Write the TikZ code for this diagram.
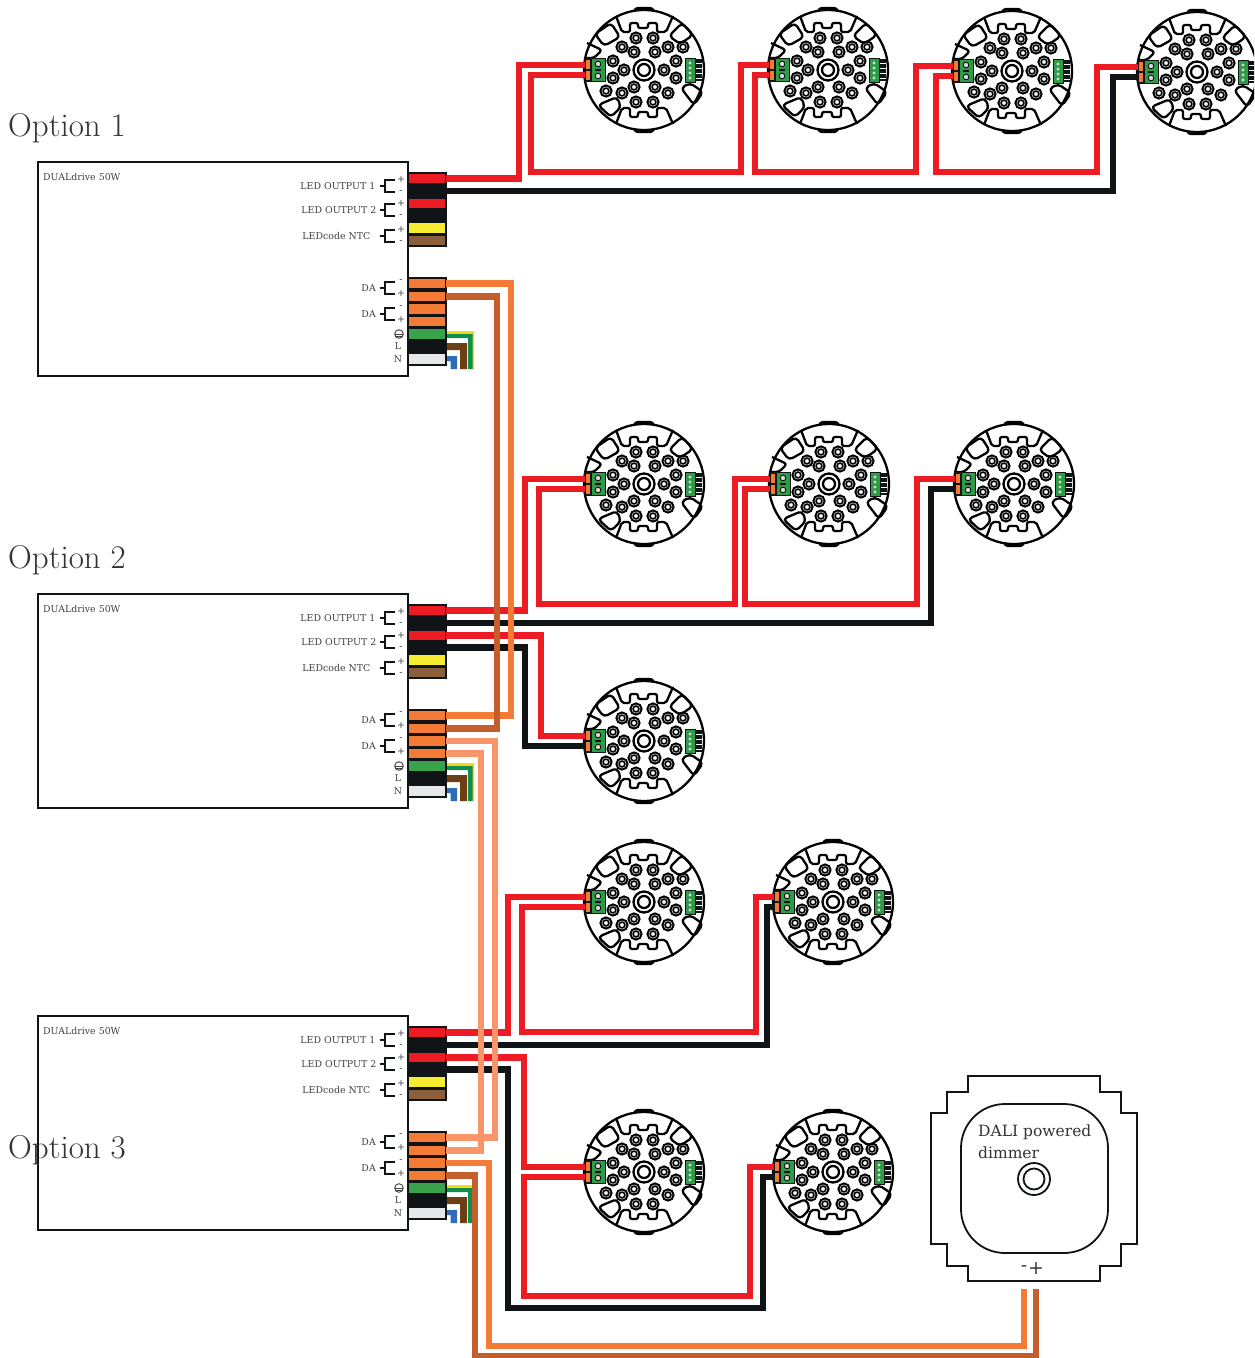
\documentclass[tikz,border=0pt]{standalone}
\usepackage{fontspec}
\setmainfont{DejaVu Serif}
\newfontfamily\optfont{Latin Modern Roman}
\definecolor{wred}{HTML}{ED1C24}
\definecolor{wblack}{HTML}{111417}
\definecolor{oa}{HTML}{F47B35}
\definecolor{ob}{HTML}{C45F2D}
\definecolor{oc}{HTML}{F9956A}
\definecolor{tyellow}{HTML}{F8EC31}
\definecolor{tbrown}{HTML}{8B5E3C}
\definecolor{tgreen}{HTML}{3AA24A}
\definecolor{twhite}{HTML}{E6E7E8}
\definecolor{pgreen}{HTML}{2E9B47}
\definecolor{myel}{HTML}{F6D80F}
\definecolor{mgreen}{HTML}{0E8F4F}
\definecolor{mbrown}{HTML}{6E3F16}
\definecolor{mblue}{HTML}{2F6DB8}
\tikzset{
  wire/.style={line width=6.5pt,line join=miter},
  redw/.style={wire,draw=wred},
  blkw/.style={wire,draw=wblack},
  orw/.style={wire,draw=oa},
  brw/.style={wire,draw=ob},
  ltw/.style={wire,draw=oc},
  term/.style={draw=wblack,line width=2pt,minimum width=38pt,minimum height=11.5pt,inner sep=0pt,outer sep=0pt,anchor=north west},
  driverbox/.style={draw=wblack,line width=2.2pt,fill=white,minimum width=370pt,minimum height=214pt,inner sep=0pt,outer sep=0pt,anchor=north west},
  small/.style={font=\fontsize{9.4}{10}\selectfont,text=black!75,inner sep=0pt},
  sign/.style={font=\fontsize{9.5}{10}\selectfont,text=black!75,inner sep=0pt},
  brk/.style={line width=1.8pt,draw=wblack},
  ln/.style={line width=2.3pt,draw=black,line join=round},
  puck/.pic={
    \draw[ln,fill=white,rounded corners=3pt] (-10,-58) -- (-9,-62) -- (9,-62) -- (10,-58);
    \draw[ln,fill=white,rounded corners=3pt] (-10,58) -- (-9,62) -- (9,62) -- (10,58);
    \draw[ln,fill=white] (0,0) circle (60);
    \draw[ln,rounded corners=2pt] (-28,-54) -- (-22,-38) -- (-14,-38) -- (-14,-47) -- (-6,-47) -- (-6,-42) -- (4,-42) -- (4,-47) -- (13,-47) -- (13,-38) -- (22,-38) -- (29,-54);
    \draw[ln,rounded corners=2pt] (-28,54) -- (-22,38) -- (-14,38) -- (-14,47) -- (-6,47) -- (-6,42) -- (4,42) -- (4,47) -- (13,47) -- (13,38) -- (22,38) -- (29,54);
    \draw[ln,rounded corners=4pt] (-49,-36) -- (-33,-47) -- (-24,-33) -- (-40,-24) -- cycle;
    \draw[ln,rounded corners=3pt] (-57,-27) -- (-42,-20) -- (-50,-12) -- (-59,-12);
    \draw[ln,rounded corners=4pt] (25,-34) -- (38,-47) -- (49,-35) -- (36,-26) -- cycle;
    \draw[ln,rounded corners=4pt] (37,18) -- (46,13) -- (59,22) -- (50,35) -- cycle;
    \draw[ln,rounded corners=4pt] (-46,35) -- (-27,27) -- (-23,37) -- (-33,47) -- cycle;
    \foreach \px/\py in {-8/-32,9/-32,-22/-23,-10/-18,11/-18,24/-23,39/-23,-31/-9,-20/0,-31/8,32/-9,20/0,32/8,-38/21,-22/23,-10/17,11/17,24/23,-8/32,9/32}{
      \draw[line width=2pt,draw=black] (\px,\py) circle (5.6);
      \draw[line width=1.6pt,draw=black] (\px,\py) circle (2.9);
    }
    \draw[ln] (0,0) circle (10.5);
    \draw[ln] (0,0) circle (6);
    % left connector
    \fill[wblack] (-60,-12) rectangle (-38,12);
    \fill[oa] (-58.5,-10) rectangle (-54.5,-1);
    \fill[oa] (-58.5,1) rectangle (-54.5,10);
    \fill[pgreen] (-52,-11) rectangle (-39,11);
    \fill[wblack] (-49,-1) rectangle (-43,1);
    \fill[white!85!black] (-46,-6) circle (2.8);
    \fill[white!85!black] (-46,6) circle (2.8);
    \draw[black,line width=.8pt] (-46,-6) circle (2.8) (-46,6) circle (2.8);
    % right connector
    \fill[pgreen] (41,-12) rectangle (51,12);
    \fill[wblack] (51,-11) rectangle (58,11);
    \draw[wblack,line width=.9pt] (41,-12) rectangle (51,12);
    \foreach \py in {-7,-2,3,8}{
      \fill[white!85!black] (46,\py) circle (1.6);
      \draw[white,line width=.6pt] (52,\py) -- (58,\py);
    }
    \coordinate (-a) at (-59,-5);
    \coordinate (-b) at (-59,5);
  }
}
% \drv{name}{top y}
\newcommand{\drv}[2]{%
  \node[driverbox] (#1) at (38,#2) {};
  \node[small,anchor=west] (#1-title) at (43,#2+14.5) {DUALdrive 50W};
  \node[small,anchor=east] (#1-l1) at (375.5,#2+24) {LED OUTPUT 1};
  \node[small,anchor=east] (#1-l2) at (376.5,#2+48) {LED OUTPUT 2};
  \node[small,anchor=east] (#1-l3) at (370.5,#2+74) {LEDcode NTC};
  \node[small,anchor=east] (#1-l4) at (376,#2+126) {DA};
  \node[small,anchor=east] (#1-l5) at (376,#2+152) {DA};
  \foreach \cy/\ca/\cb in {24/+/-,48/+/-,74/+/-,126/-/+,152/-/+}{
    \draw[brk] (379.5,#2+\cy) -- (385,#2+\cy);
    \draw[brk] (395,#2+\cy-6) -- (385,#2+\cy-6) -- (385,#2+\cy+6) -- (395,#2+\cy+6);
    \node[sign] at (401,#2+\cy-6.5) {\ca};
    \node[sign] at (401,#2+\cy+6) {\cb};
  }
  \draw[line width=.9pt,draw=black!75] (399,#2+172) circle (4.3);
  \draw[line width=.8pt,draw=black!75] (394.7,#2+172) -- (403.3,#2+172) (396,#2+174) -- (402,#2+174);
  \node[small,anchor=center] (#1-L) at (398,#2+184.5) {L};
  \node[small,anchor=center] (#1-N) at (398,#2+197.5) {N};
  \fill[myel] (447,#2+169) -| (474,#2+207) -- (470,#2+207) |- (447,#2+174) -- cycle;
  \fill[mgreen] (447,#2+172) -| (472.5,#2+207) -- (468,#2+207) |- (447,#2+176) -- cycle;
  \fill[mbrown] (447,#2+181) -| (467,#2+207) -- (460,#2+207) |- (447,#2+188) -- cycle;
  \fill[mblue] (447,#2+194) -| (457,#2+207) -- (450.5,#2+207) |- (447,#2+199) -- cycle;
  \foreach \n/\ty/\tc in {1/10.5/wred,2/23/wblack,3/35.5/wred,4/47.5/wblack,5/60/tyellow,6/72.5/tbrown,
      7/115.5/oa,8/128.5/oa,9/141/oa,10/153.5/oa,11/166/tgreen,12/178.5/wblack,13/191/twhite}{
    \node[term,fill=\tc] (#1-t\n) at (408,#2+\ty) {};
  }
}
\begin{document}
\begin{tikzpicture}[x=1pt,y=-1pt]
\clip (0,0) rectangle (1254,1358);
\fill[white] (0,0) rectangle (1254,1358);

% luminaires
\pic (p11) at (644,70) {puck};
\pic (p12) at (828,70) {puck};
\pic (p13) at (1012,71) {puck};
\pic (p14) at (1197,72) {puck};
\pic (p21) at (644,484) {puck};
\pic (p22) at (829,484) {puck};
\pic (p23) at (1014,484) {puck};
\pic (p24) at (644,741) {puck};
\pic (p31) at (644,902) {puck};
\pic (p32) at (833,902) {puck};
\pic (p33) at (644,1172) {puck};
\pic (p34) at (833,1172) {puck};

% drivers
\drv{d1}{162}
\drv{d2}{594}
\drv{d3}{1016}

% LED wires, option 1
\draw[redw] (d1-t1.east) -| (519,100) |- (p11-a);
\draw[redw] (p11-b) -| (531,172) -- (741,172) |- (p12-a);
\draw[redw] (p12-b) -| (755,172) -- (916,172) |- (p13-a);
\draw[redw] (p13-b) -| (936,172) -- (1097,172) |- (p14-a);
\draw[blkw] (d1-t2.east) -| (1113,120) |- (p14-b);
% option 2
\draw[redw] (d2-t1.east) -| (525,520) |- (p21-a);
\draw[redw] (p21-b) -| (539,604) -- (735,604) |- (p22-a);
\draw[redw] (p22-b) -| (745,604) -- (917,604) |- (p23-a);
\draw[blkw] (d2-t2.east) -| (931,540) |- (p23-b);
\draw[redw] (d2-t3.east) -| (541,700) |- (p24-a);
\draw[blkw] (d2-t4.east) -| (525,700) |- (p24-b);
% option 3
\draw[redw] (d3-t1.east) -| (508,950) |- (p31-a);
\draw[redw] (p31-b) -| (522,1032) -- (756,1032) |- (p32-a);
\draw[blkw] (d3-t2.east) -| (767,950) |- (p32-b);
\draw[redw] (d3-t3.east) -| (524,1120) |- (p33-a);
\draw[redw] (p33-b) -| (524,1296) -- (750,1296) |- (p34-a);
\draw[blkw] (d3-t4.east) -| (508,1308) -- (763,1308) |- (p34-b);

% DALI wires
\draw[orw] (d1-t7.east) -| (511,500) |- (d2-t7.east);
\draw[brw] (d1-t8.east) -| (497,500) |- (d2-t8.east);
\draw[ltw] (d2-t9.east) -| (495,900) |- (d3-t7.east);
\draw[ltw] (d2-t10.east) -| (481,900) |- (d3-t8.east);

% dimmer
\draw[line width=2pt,draw=wblack,fill=white] (968,1076) -- (1100,1076) -- (1100,1092) -- (1121,1092) -- (1121,1113) -- (1137,1113) -- (1137,1244) -- (1121,1244) -- (1121,1266) -- (1100,1266) -- (1100,1281) -- (968,1281) -- (968,1266) -- (947,1266) -- (947,1244) -- (931,1244) -- (931,1113) -- (947,1113) -- (947,1092) -- (968,1092) -- cycle;
\node[draw=wblack,line width=1.8pt,rounded corners=44pt,minimum width=147pt,minimum height=149pt,inner sep=0pt] (dimface) at (1034.5,1178.5) {};
\node[anchor=west,inner sep=0pt,font=\fontsize{15.5}{16}\selectfont,text=black!80] (dimt1) at (978,1132.5) {DALI powered};
\node[anchor=west,inner sep=0pt,font=\fontsize{15.5}{16}\selectfont,text=black!80] (dimt2) at (978,1152.5) {dimmer};
\draw[line width=1.8pt,draw=wblack] (1034,1179) circle (16) (1034,1179) circle (10.5);
\node[inner sep=0pt,font=\fontsize{19}{20}\selectfont,text=black!80] (dimminus) at (1024,1269) {-};
\node[inner sep=0pt,font=\fontsize{19}{20}\selectfont,text=black!80] (dimplus) at (1036,1269) {+};
\coordinate (dimA) at (1024,1289);
\coordinate (dimB) at (1036,1289);
\draw[orw] (d3-t9.east) -| (489,1346) -| (dimA);
\draw[brw] (d3-t10.east) -| (475,1356) -| (dimB);

% headings
\node[anchor=west,inner sep=0pt,font=\optfont\fontsize{33}{36}\selectfont,text=black!80] (opt1) at (8,128) {Option 1};
\node[anchor=west,inner sep=0pt,font=\optfont\fontsize{33}{36}\selectfont,text=black!80] (opt2) at (8,560) {Option 2};
\node[anchor=west,inner sep=0pt,font=\optfont\fontsize{33}{36}\selectfont,text=black!80] (opt3) at (8,1150) {Option 3};
\end{tikzpicture}
\end{document}
